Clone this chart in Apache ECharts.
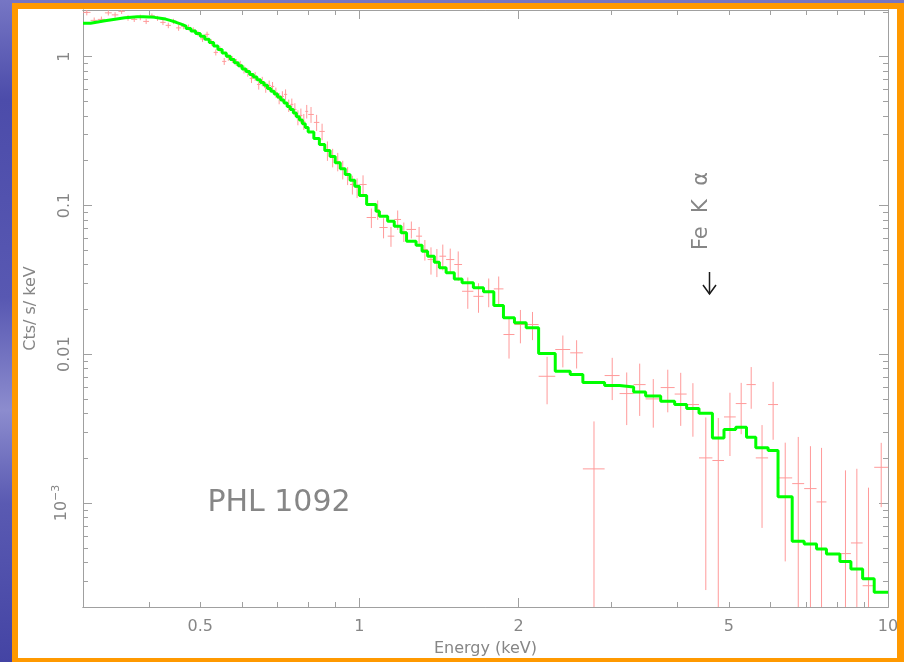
<!DOCTYPE html>
<html>
<head>
<meta charset="utf-8">
<script src="https://cdn.jsdelivr.net/npm/echarts@6/dist/echarts.min.js"></script>
<style>
html, body { margin: 0; padding: 0; }
#chart { width: 904px; height: 662px; }
</style>
</head>
<body>
<div id="chart"></div>
<script>
// bin edges in keV (119 bins)
const binEdges = [
  0.30, 0.31, 0.32, 0.33, 0.34, 0.35, 0.36, 0.37, 0.38, 0.39,
  0.40, 0.41, 0.42, 0.43, 0.44, 0.45, 0.46, 0.47, 0.48, 0.49,
  0.50, 0.51, 0.52, 0.53, 0.54, 0.55, 0.56, 0.57, 0.58, 0.59,
  0.60, 0.61, 0.62, 0.63, 0.64, 0.65, 0.66, 0.67, 0.68, 0.69,
  0.70, 0.71, 0.72, 0.73, 0.74, 0.75, 0.76, 0.77, 0.78, 0.79,
  0.80, 0.82, 0.84, 0.86, 0.88, 0.90, 0.92, 0.94, 0.96, 0.98,
  1.00, 1.032, 1.075, 1.091, 1.131, 1.164, 1.199, 1.228, 1.280, 1.314,
  1.346, 1.386, 1.417, 1.459, 1.512, 1.564, 1.643, 1.717, 1.796, 1.873,
  1.965, 2.068, 2.183, 2.347, 2.505, 2.647, 2.910, 3.106, 3.302, 3.479,
  3.715, 3.948, 4.160, 4.390, 4.654, 4.895, 5.152, 5.399, 5.622, 5.932,
  6.194, 6.588, 6.941, 7.325, 7.648, 8.110, 8.508, 8.954, 9.417, 10.0
];

// folded model, Cts/s/keV per bin (green histogram)
const modelRate = [
  1.680, 1.711, 1.743, 1.774, 1.801, 1.827, 1.844, 1.855, 1.858, 1.852,
  1.838, 1.815, 1.790, 1.749, 1.703, 1.654, 1.606, 1.545, 1.489, 1.430,
  1.374, 1.309, 1.246, 1.180, 1.116, 1.057, 1.005, 0.956, 0.911, 0.870,
  0.828, 0.794, 0.760, 0.730, 0.700, 0.672, 0.642, 0.612, 0.586, 0.562,
  0.536, 0.512, 0.488, 0.463, 0.441, 0.419, 0.395, 0.375, 0.354, 0.3345,
  0.3115, 0.2822, 0.2571, 0.2344, 0.2133, 0.1940, 0.1768, 0.1616, 0.1480, 0.1349,
  0.1167, 0.1016, 0.0915, 0.0847, 0.0784, 0.0726, 0.0655, 0.0575, 0.0541, 0.0493,
  0.0456, 0.0416, 0.0381, 0.0353, 0.0321, 0.0302, 0.0280, 0.0263, 0.02126, 0.01757,
  0.01626, 0.01505, 0.01011, 0.00769, 0.00730, 0.00645, 0.00616, 0.00602, 0.00557, 0.00523,
  0.00484, 0.00459, 0.00431, 0.00401, 0.00274, 0.00312, 0.00323, 0.00277, 0.00235, 0.00225,
  0.00110, 0.000553, 0.000531, 0.000491, 0.000455, 0.000405, 0.000360, 0.000310, 0.000251
];

// measured rate per bin (pink crosses)
const dataRate = [
  1.986, 1.754, 1.781, 1.971, 1.910, 2.017, 1.824, 1.781, 1.838, 1.727,
  1.881, 1.810, 1.701, 1.624, 1.727, 1.562, 1.599, 1.574, 1.514, 1.434,
  1.317, 1.413, 1.248, 1.069, 1.120, 0.930, 0.989, 0.959, 0.916, 0.888,
  0.821, 0.784, 0.715, 0.737, 0.651, 0.682, 0.622, 0.641, 0.631, 0.575,
  0.524, 0.541, 0.558, 0.470, 0.478, 0.442, 0.391, 0.403, 0.367, 0.429,
  0.409, 0.3616, 0.3145, 0.2344, 0.2103, 0.1976, 0.1746, 0.1591, 0.1384, 0.1321,
  0.1384, 0.0830, 0.0940, 0.0711, 0.0622, 0.0805, 0.0668, 0.0690, 0.0622, 0.0506,
  0.0433, 0.0420, 0.0456, 0.0433, 0.0401, 0.0265, 0.0245, 0.0265, 0.0275, 0.01357,
  0.01584, 0.01584, 0.00711, 0.01076, 0.01022, 0.001696, 0.00719, 0.00544, 0.00625, 0.00501,
  0.00597, 0.00540, 0.00459, 0.00201, 0.00193, 0.00379, 0.00466, 0.00625, 0.00201, 0.00459,
  0.001475, 0.001350, 0.001250, 0.001017, null, 0.000457, 0.000539, 0.000278, 0.001738
];

// 1-sigma error on the measured rate
const dataError = [
  0.09, 0.08, 0.08, 0.08, 0.08, 0.08, 0.08, 0.07, 0.08, 0.07,
  0.07, 0.07, 0.07, 0.07, 0.07, 0.07, 0.07, 0.07, 0.06, 0.06,
  0.06, 0.06, 0.06, 0.05, 0.05, 0.05, 0.05, 0.05, 0.05, 0.05,
  0.05, 0.05, 0.05, 0.05, 0.05, 0.05, 0.05, 0.05, 0.045, 0.045,
  0.045, 0.045, 0.045, 0.045, 0.045, 0.045, 0.045, 0.045, 0.045, 0.045,
  0.05, 0.045, 0.04, 0.035, 0.03, 0.028, 0.025, 0.022, 0.02, 0.02,
  0.021, 0.0125, 0.014, 0.011, 0.0095, 0.012, 0.010, 0.009, 0.0095, 0.008,
  0.009, 0.009, 0.009, 0.008, 0.009, 0.0063, 0.0055, 0.0058, 0.0058, 0.00422,
  0.0040, 0.0034, 0.0025, 0.0026, 0.0022, 0.00184, 0.00227, 0.0021, 0.0024, 0.0018,
  0.0019, 0.0021, 0.0018, 0.00175, 0.0018, 0.00172, 0.00176, 0.00195, 0.00133, 0.00193,
  0.00107, 0.00143, 0.00116, 0.00133, null, 0.0012, 0.00116, 0.00099, 0.0008
];

// axis ticks and labels
const xTickLabels = [0.5, 1, 2, 5, 10];
const xTickLong = [1, 2];
const xTickShort = [0.4, 0.5, 0.6, 0.7, 0.8, 0.9, 3, 4, 5, 6, 7, 8, 9];
const yTickLabels = [1, 0.1, 0.01, 0.001];
const yTickLong = [1, 0.1, 0.01, 0.001];
const yTickShort = [
  2, 0.9, 0.8, 0.7, 0.6, 0.5, 0.4, 0.3, 0.2,
  0.09, 0.08, 0.07, 0.06, 0.05, 0.04, 0.03, 0.02,
  0.009, 0.008, 0.007, 0.006, 0.005, 0.004, 0.003, 0.002,
  0.0009, 0.0008, 0.0007, 0.0006, 0.0005, 0.0004, 0.0003
];

const X_MIN = 0.3, X_MAX = 10;
const Y_MIN = 0.0002, Y_MAX = 2.06;

const AXIS_COLOR = '#a0a0a0';
const TEXT_COLOR = '#868686';
const FONT = 'DejaVu Sans';
const lg = Math.log10;

// histogram points for step line
const modelLine = modelRate.map((v, i) => [lg(binEdges[i]), lg(v)]);
modelLine.push([lg(binEdges[binEdges.length - 1]), lg(modelRate[modelRate.length - 1])]);

// crosses: [xlo, xhi, xc, y, ylo, yhi] in log space, clamped to the frame
const crosses = [];
dataRate.forEach((v, i) => {
  if (v == null) return;
  const lo = binEdges[i], hi = binEdges[i + 1];
  const e = dataError[i];
  const down = Math.max(v - e, Y_MIN);
  const up = Math.min(v + e, Y_MAX);
  crosses.push([lg(lo), lg(hi), lg((lo + hi) / 2), lg(v), lg(down), lg(up)]);
});

function xAxisDef(position, ticks, len, label) {
  return {
    type: 'value', position: position, gridIndex: 0,
    min: lg(X_MIN), max: lg(X_MAX),
    axisLine: { show: true, onZero: false, lineStyle: { color: AXIS_COLOR, width: 1 } },
    axisTick: { show: true, inside: true, length: len, customValues: ticks.map(lg),
      lineStyle: { color: AXIS_COLOR, width: 1 } },
    axisLabel: label || { show: false },
    splitLine: { show: false }
  };
}

function yAxisDef(position, ticks, len, label) {
  return {
    type: 'value', position: position, gridIndex: 0,
    min: lg(Y_MIN), max: lg(Y_MAX),
    axisLine: { show: true, onZero: false, lineStyle: { color: AXIS_COLOR, width: 1 } },
    axisTick: { show: true, inside: true, length: len, customValues: ticks.map(lg),
      lineStyle: { color: AXIS_COLOR, width: 1 } },
    axisLabel: label || { show: false },
    splitLine: { show: false }
  };
}

const xMain = xAxisDef('bottom', xTickShort, 5, {
  show: true,
  customValues: xTickLabels.map(lg),
  formatter: v => String(Math.round(Math.pow(10, v) * 100) / 100),
  color: TEXT_COLOR, fontFamily: FONT, fontSize: 16, margin: 12
});
xMain.name = 'Energy (keV)';
xMain.nameLocation = 'middle';
xMain.nameGap = 34;
xMain.nameTextStyle = { color: TEXT_COLOR, fontFamily: FONT, fontSize: 16 };

const yMain = yAxisDef('left', yTickShort, 5, {
  show: true,
  rotate: 90,
  customValues: yTickLabels.map(lg),
  formatter: v => v < -2.5 ? '{b|10}{sup|\u22123}' : String(+Math.pow(10, v).toPrecision(1)),
  color: TEXT_COLOR, fontFamily: FONT, fontSize: 16, margin: 10,
  rich: {
    b: { color: TEXT_COLOR, fontFamily: FONT, fontSize: 16, lineHeight: 22 },
    sup: { color: TEXT_COLOR, fontFamily: FONT, fontSize: 11, lineHeight: 12, verticalAlign: 'top' }
  }
});
yMain.name = 'Cts/ s/ keV';
yMain.nameLocation = 'middle';
yMain.nameGap = 44;
yMain.nameTextStyle = { color: TEXT_COLOR, fontFamily: FONT, fontSize: 16 };

const chart = echarts.init(document.getElementById('chart'));
chart.setOption({
  animation: false,
  backgroundColor: new echarts.graphic.LinearGradient(0, 0, 0, 1, [
    { offset: 0, color: '#7676c4' },
    { offset: 0.15, color: '#4c4caa' },
    { offset: 0.45, color: '#5858b2' },
    { offset: 0.62, color: '#8c8cce' },
    { offset: 0.76, color: '#5a5ab2' },
    { offset: 1, color: '#4444a4' }
  ]),
  textStyle: { fontFamily: FONT },
  grid: { left: 83, right: 16, top: 10, bottom: 55, containLabel: false },
  xAxis: [
    xMain,
    xAxisDef('bottom', xTickLong, 9),
    xAxisDef('top', xTickShort, 5),
    xAxisDef('top', xTickLong, 9)
  ],
  yAxis: [
    yMain,
    yAxisDef('left', yTickLong, 9),
    yAxisDef('right', yTickShort, 5),
    yAxisDef('right', yTickLong, 9)
  ],
  graphic: [
    { type: 'rect', z: -10, silent: true, shape: { x: 12, y: 3, width: 892, height: 659 },
      style: { fill: '#ff9900' } },
    { type: 'rect', z: -9, silent: true, shape: { x: 18, y: 9, width: 879, height: 649 },
      style: { fill: '#ffffff' } },
    { type: 'text', x: 279, y: 503, silent: true,
      style: { text: 'PHL 1092', align: 'center', verticalAlign: 'middle',
        fill: TEXT_COLOR, fontFamily: FONT, fontSize: 30 } },
    { type: 'text', x: 702, y: 211, rotation: Math.PI / 2, silent: true,
      style: { text: 'Fe  K  \u03b1', align: 'center', verticalAlign: 'middle',
        fill: TEXT_COLOR, fontFamily: FONT, fontSize: 21 } },
    { type: 'line', silent: true, shape: { x1: 709.5, y1: 272, x2: 709.5, y2: 294 },
      style: { stroke: '#1a1a1a', lineWidth: 1.5 } },
    { type: 'polyline', silent: true,
      shape: { points: [[703, 285], [709.5, 294], [716, 285]] },
      style: { stroke: '#1a1a1a', lineWidth: 1.5, fill: null } }
  ],
  series: [
    {
      type: 'custom',
      name: 'data',
      xAxisIndex: 0, yAxisIndex: 0,
      z: 2,
      encode: { x: [0, 1, 2], y: [3, 4, 5] },
      data: crosses,
      renderItem: (params, api) => {
        const xc = api.value(2), y = api.value(3);
        const a = api.coord([api.value(0), y]);
        const b = api.coord([api.value(1), y]);
        const t = api.coord([xc, api.value(5)]);
        const d = api.coord([xc, api.value(4)]);
        const style = { stroke: '#ff9a9a', lineWidth: 1 };
        return {
          type: 'group',
          children: [
            { type: 'line', shape: { x1: a[0], y1: a[1], x2: b[0], y2: b[1] }, style: style },
            { type: 'line', shape: { x1: t[0], y1: t[1], x2: d[0], y2: d[1] }, style: style }
          ]
        };
      }
    },
    {
      type: 'line',
      name: 'model',
      xAxisIndex: 0, yAxisIndex: 0,
      z: 3,
      step: 'end',
      showSymbol: false,
      symbol: 'none',
      data: modelLine,
      lineStyle: { color: '#00ff00', width: 3 }
    }
  ]
});
</script>
</body>
</html>
